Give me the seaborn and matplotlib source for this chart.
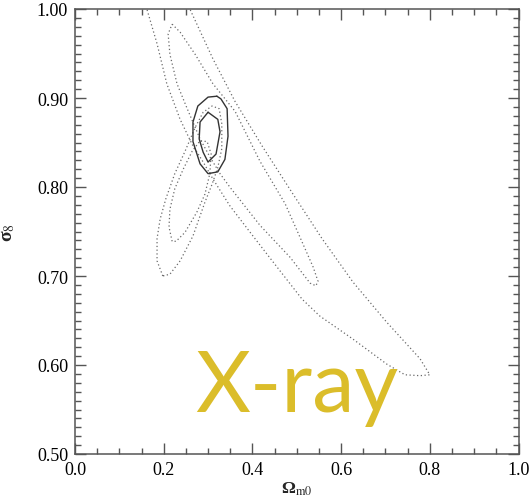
import numpy as np
import pandas as pd
import matplotlib
matplotlib.use("Agg")
import matplotlib.pyplot as plt
from matplotlib.ticker import MultipleLocator
import seaborn as sns

# ---- contour vertices (Omega_m0, sigma_8) ----
# elongated band (NW-SE), outer level
band_outer_x = [0.248, 0.259, 0.311, 0.361, 0.422, 0.489, 0.557, 0.627, 0.703, 0.778, 0.800,
                0.778, 0.744, 0.703, 0.627, 0.552, 0.512, 0.440, 0.395, 0.349, 0.311, 0.289,
                0.264, 0.237, 0.207, 0.185, 0.162, 0.151]
band_outer_y = [1.0225, 1.000, 0.944, 0.896, 0.846, 0.794, 0.742, 0.693, 0.648, 0.607, 0.589,
                0.588, 0.589, 0.601, 0.629, 0.655, 0.674, 0.720, 0.749, 0.779, 0.809, 0.828,
                0.848, 0.876, 0.916, 0.961, 1.000, 1.0225]
# elongated band, inner level
band_inner_x = [0.219, 0.237, 0.271, 0.311, 0.361, 0.417, 0.474, 0.514, 0.537, 0.548, 0.543,
                0.530, 0.485, 0.417, 0.349, 0.327, 0.304, 0.282, 0.253, 0.230, 0.214, 0.210, 0.219]
band_inner_y = [0.983, 0.974, 0.949, 0.916, 0.885, 0.829, 0.781, 0.736, 0.710, 0.694, 0.689,
                0.692, 0.721, 0.757, 0.800, 0.815, 0.834, 0.854, 0.888, 0.916, 0.949, 0.972, 0.983]
# second constraint (NE-SW), outer level
cross_outer_x = [0.198, 0.185, 0.185, 0.192, 0.205, 0.225, 0.248, 0.271, 0.289, 0.309, 0.325,
                 0.331, 0.331, 0.322, 0.309, 0.293, 0.266, 0.237, 0.214, 0.198]
cross_outer_y = [0.700, 0.717, 0.742, 0.764, 0.787, 0.815, 0.840, 0.867, 0.884, 0.891, 0.888,
                 0.871, 0.843, 0.822, 0.803, 0.783, 0.745, 0.717, 0.702, 0.700]
# second constraint, inner level
cross_inner_x = [0.219, 0.212, 0.214, 0.225, 0.244, 0.264, 0.282, 0.298, 0.307, 0.304, 0.293,
                 0.275, 0.248, 0.228, 0.219]
cross_inner_y = [0.739, 0.755, 0.775, 0.798, 0.820, 0.840, 0.852, 0.851, 0.837, 0.815, 0.792,
                 0.772, 0.749, 0.739, 0.739]
# combined constraint (solid), outer and inner
joint_outer_x = [0.320, 0.300, 0.277, 0.266, 0.266, 0.282, 0.300, 0.322, 0.338, 0.345, 0.343, 0.329, 0.320]
joint_outer_y = [0.902, 0.901, 0.891, 0.873, 0.851, 0.826, 0.815, 0.817, 0.831, 0.857, 0.888, 0.899, 0.902]
joint_inner_x = [0.300, 0.282, 0.280, 0.289, 0.300, 0.318, 0.327, 0.322, 0.300]
joint_inner_y = [0.884, 0.873, 0.854, 0.839, 0.828, 0.837, 0.862, 0.876, 0.884]

x_ticks = [0.0, 0.2, 0.4, 0.6, 0.8, 1.0]
y_ticks = [0.50, 0.60, 0.70, 0.80, 0.90, 1.00]
label_text = "X-ray"

sns.set_theme(style="white")
plt.rcParams["mathtext.fontset"] = "stix"
plt.rcParams["font.family"] = ["Liberation Serif", "DejaVu Serif"]
plt.rcParams["xtick.bottom"] = True
plt.rcParams["ytick.left"] = True

fig = plt.figure(figsize=(5.31, 5.02), dpi=100)
ax = fig.add_axes([75 / 531, 1 - 455 / 502, 443.5 / 531, 445 / 502])

dotted = dict(color="#6a6a6a", linewidth=0.9, linestyle=(0, (1, 2)))
solid = dict(color="#333333", linewidth=1.0, linestyle="-")

curves = [
    (band_outer_x, band_outer_y, dotted),
    (band_inner_x, band_inner_y, dotted),
    (cross_outer_x, cross_outer_y, dotted),
    (cross_inner_x, cross_inner_y, dotted),
    (joint_outer_x, joint_outer_y, solid),
    (joint_inner_x, joint_inner_y, solid),
]
for cx, cy, st in curves:
    df = pd.DataFrame({"x": cx, "y": cy})
    sns.lineplot(data=df, x="x", y="y", sort=False, estimator=None, ax=ax,
                 color=st["color"], linewidth=st["linewidth"], linestyle=st["linestyle"])

ax.set_xlim(0.0, 1.0)
ax.set_ylim(0.50, 1.00)
ax.set_xticks(x_ticks)
ax.set_xticklabels([f"{v:.1f}" for v in x_ticks])
ax.set_yticks(y_ticks)
ax.set_yticklabels([f"{v:.2f}" for v in y_ticks])
ax.xaxis.set_minor_locator(MultipleLocator(0.05))
ax.yaxis.set_minor_locator(MultipleLocator(0.01))
ax.tick_params(which="both", direction="in", bottom=True, left=True, top=True, right=True,
               color="#555555", width=1.0, labelsize=13, labelcolor="black", pad=5)
ax.tick_params(which="major", length=8)
ax.tick_params(which="minor", length=4.5)
for s in ax.spines.values():
    s.set_color("#555555")
    s.set_linewidth(1.1)
for lab in ax.get_xticklabels() + ax.get_yticklabels():
    lab.set_family("Liberation Serif")

ax.set_xlabel(r"Ω$_{\rm m0}$", fontsize=12.5, fontweight="bold", labelpad=1)
ax.set_ylabel(r"σ$_{8}$", fontsize=14, fontweight="bold", labelpad=14)

ax.text(0.270, 0.548, label_text, color="#DBBD2A", fontsize=61, family="Lato",
        ha="left", va="baseline")

fig.savefig("out.png", dpi=100)
